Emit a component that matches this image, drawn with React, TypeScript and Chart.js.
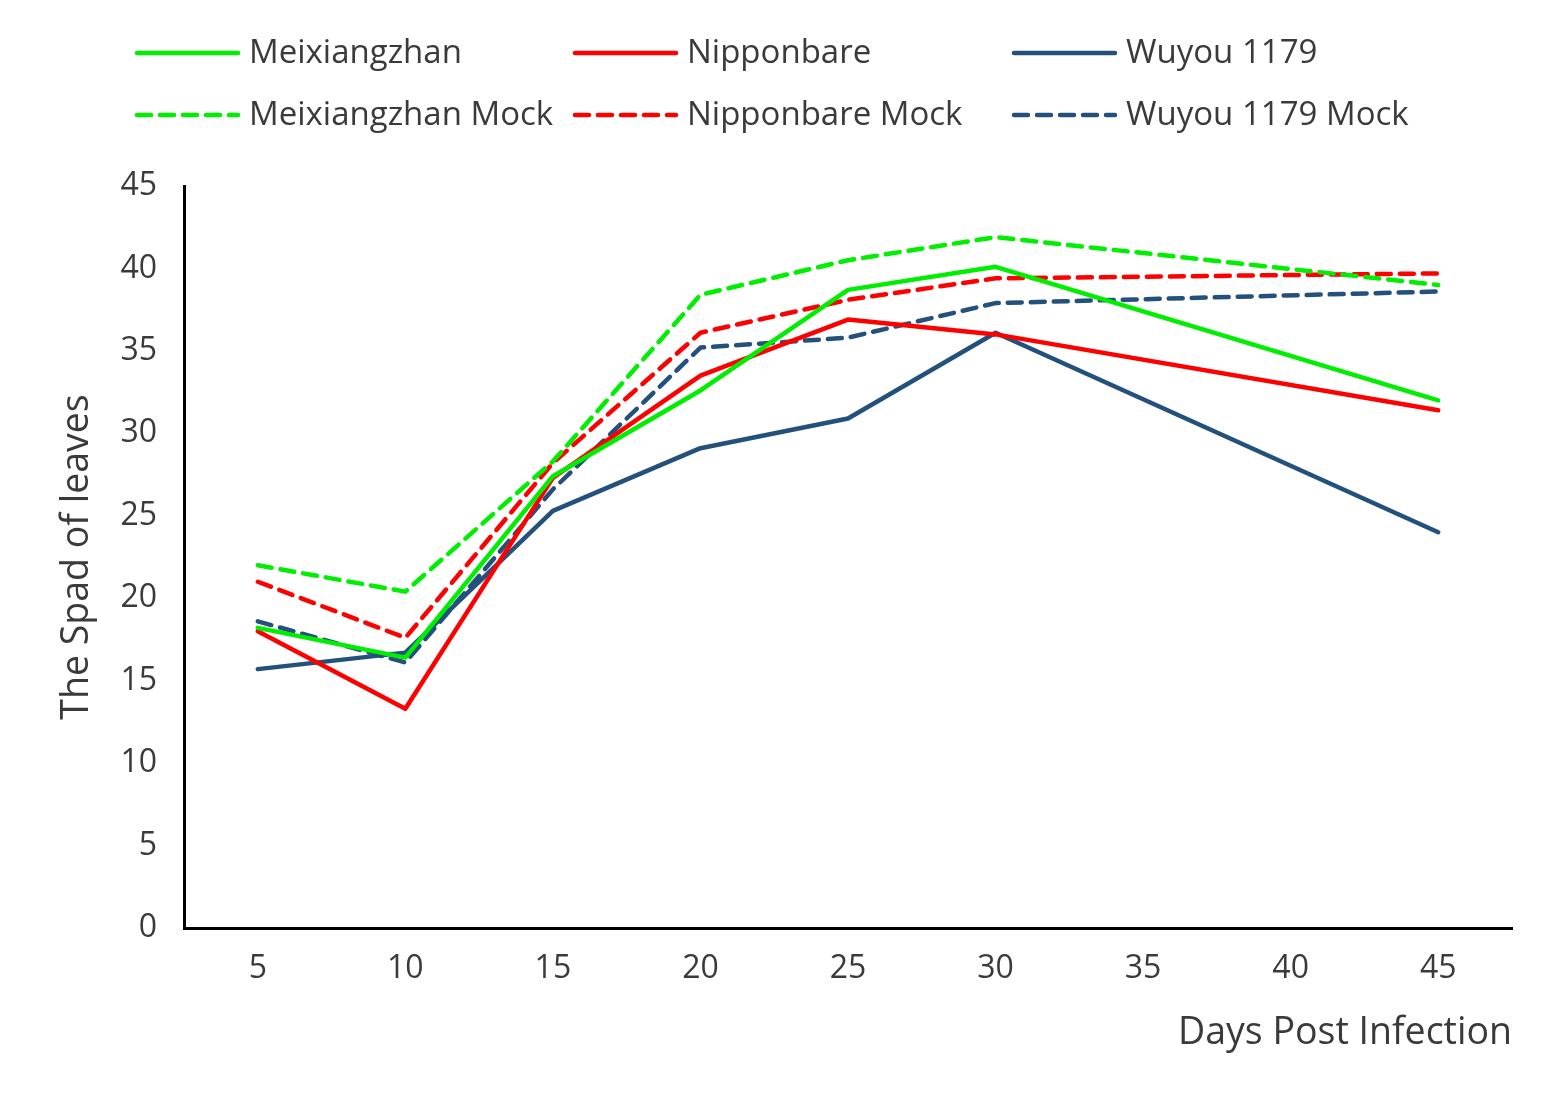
import { useEffect, useRef } from "react"
import { Chart, registerables } from "chart.js"

Chart.register(...registerables)

// x categories (days post infection); no measurements at 35 and 40
const days = ["5", "10", "15", "20", "25", "30", "35", "40", "45"]

const meixiangzhan = [18.2, 16.4, 27.4, 32.6, 38.7, 40.1, null, null, 32.0]
const nipponbare = [18.0, 13.3, 27.3, 33.5, 36.9, 36.0, null, null, 31.4]
const wuyou1179 = [15.7, 16.7, 25.3, 29.1, 30.9, 36.1, null, null, 24.0]
const meixiangzhanMock = [22.0, 20.4, 28.3, 38.4, 40.5, 41.9, null, null, 39.0]
const nipponbareMock = [21.0, 17.6, 28.2, 36.1, 38.1, 39.4, null, null, 39.7]
const wuyou1179Mock = [18.6, 16.1, 26.6, 35.2, 35.8, 37.9, null, null, 38.6]

const GREEN = "#00ee00"
const RED = "#ff0000"
const NAVY = "#24507c"
const TEXT = "#3a3a3a"
const FONT = "'Open Sans', sans-serif"
const DASH = [14, 9]

// legend laid out in fixed columns like the original
const legendGrid = {
  id: "legendGrid",
  afterDraw(chart: Chart) {
    const { ctx } = chart
    const colX = [135, 573, 1012]
    const rowY = [53, 115]
    ctx.save()
    ctx.font = `33px ${FONT}`
    ctx.textBaseline = "middle"
    ctx.textAlign = "left"
    chart.data.datasets.forEach((ds: any, i: number) => {
      const x = colX[i % 3]
      const y = rowY[Math.floor(i / 3)]
      ctx.strokeStyle = ds.borderColor
      ctx.lineWidth = 4.5
      ctx.lineCap = "round"
      ctx.setLineDash(ds.borderDash || [])
      ctx.beginPath()
      ctx.moveTo(x + 2, y)
      ctx.lineTo(x + 103, y)
      ctx.stroke()
      ctx.setLineDash([])
      ctx.fillStyle = TEXT
      ctx.fillText(ds.label, x + 114, y + 1)
    })
    ctx.restore()
  },
}

function line(label: string, data: (number | null)[], color: string, dashed: boolean) {
  return {
    label,
    data,
    borderColor: color,
    backgroundColor: color,
    borderWidth: 4.5,
    borderDash: dashed ? DASH : [],
    borderCapStyle: "round" as const,
    borderJoinStyle: "round" as const,
    pointRadius: 0,
    tension: 0,
    spanGaps: true,
  }
}

export default function App() {
  const canvasRef = useRef<HTMLCanvasElement>(null)
  const chartRef = useRef<Chart | null>(null)

  useEffect(() => {
    document.body.style.margin = "0"
    if (!canvasRef.current) return
    if (chartRef.current) chartRef.current.destroy()

    chartRef.current = new Chart(canvasRef.current, {
      type: "line",
      data: {
        labels: days,
        datasets: [
          line("Meixiangzhan", meixiangzhan, GREEN, false),
          line("Nipponbare", nipponbare, RED, false),
          line("Wuyou 1179", wuyou1179, NAVY, false),
          line("Meixiangzhan Mock", meixiangzhanMock, GREEN, true),
          line("Nipponbare Mock", nipponbareMock, RED, true),
          line("Wuyou 1179 Mock", wuyou1179Mock, NAVY, true),
        ] as any,
      },
      options: {
        animation: false,
        responsive: true,
        maintainAspectRatio: false,
        layout: { padding: { top: 186, right: 46, bottom: 0, left: 0 } },
        plugins: {
          legend: { display: false },
          tooltip: { enabled: false },
        },
        scales: {
          x: {
            offset: true,
            grid: { display: false, drawTicks: false },
            border: { display: true, color: "#000", width: 3 },
            ticks: { color: TEXT, font: { family: FONT, size: 32 }, padding: 22, maxRotation: 0 },
            title: {
              display: true,
              text: "Days Post Infection",
              align: "end",
              color: TEXT,
              font: { family: FONT, size: 37.5 },
              padding: { top: 0, bottom: 47 },
            },
            afterFit: (scale: any) => {
              scale.height = 175
            },
          },
          y: {
            min: 0,
            max: 45,
            grid: { display: false, drawTicks: false },
            border: { display: true, color: "#000", width: 3 },
            ticks: { stepSize: 5, color: TEXT, font: { family: FONT, size: 32 }, padding: 27 },
            title: {
              display: true,
              text: "The Spad of leaves",
              color: TEXT,
              font: { family: FONT, size: 37.5 },
              padding: { top: 55, bottom: 0 },
            },
            afterFit: (scale: any) => {
              scale.width = 184
            },
          },
        },
      },
      plugins: [legendGrid as any],
    })

    return () => {
      if (chartRef.current) {
        chartRef.current.destroy()
        chartRef.current = null
      }
    }
  }, [])

  return (
    <div style={{ width: 1558, height: 1103, background: "#fff" }}>
      <canvas ref={canvasRef} />
    </div>
  )
}
